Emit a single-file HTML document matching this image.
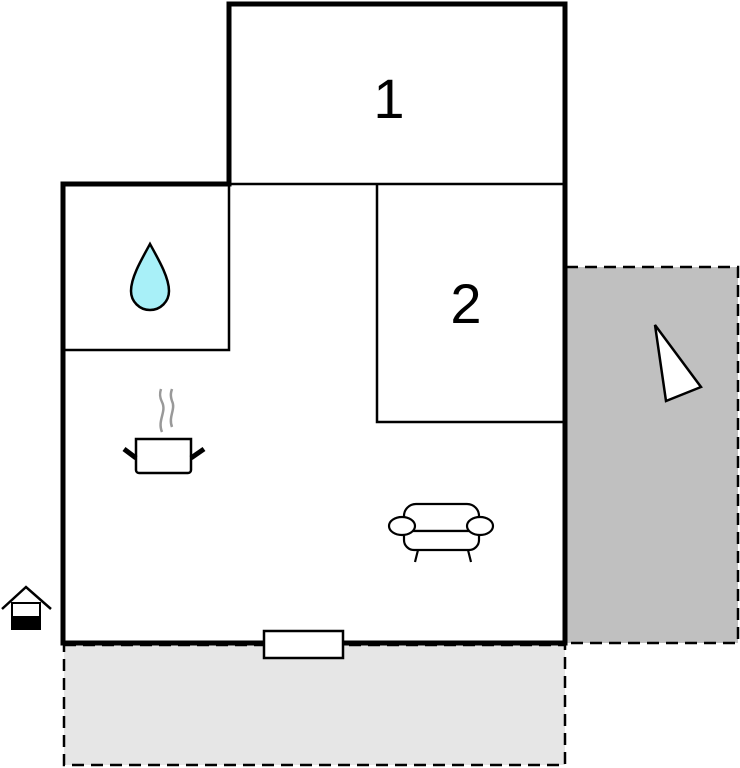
<!DOCTYPE html>
<html><head><style>body{margin:0;background:#fff}svg{display:block}</style></head><body>
<svg width="740" height="768" viewBox="0 0 740 768" xmlns="http://www.w3.org/2000/svg">
<rect x="64" y="645" width="501" height="120" fill="#e6e6e6" stroke="#000" stroke-width="2.5" stroke-dasharray="12,7"/>
<rect x="566" y="267" width="172" height="376" fill="#c0c0c0" stroke="#000" stroke-width="2.5" stroke-dasharray="12,7"/>
<path d="M229,4 H565 V643 H63 V184 H229 Z" fill="#fff" stroke="#000" stroke-width="5"/>
<line x1="229" y1="184" x2="565" y2="184" stroke="#000" stroke-width="2.5"/>
<path d="M229,184 V350 H63" fill="none" stroke="#000" stroke-width="2.5"/>
<path d="M377,184 V422 H565" fill="none" stroke="#000" stroke-width="2.5"/>
<rect x="264" y="631" width="79" height="27" fill="#fff" stroke="#000" stroke-width="2.5"/>
<text x="389" y="118" font-family="Liberation Sans, sans-serif" font-size="56" text-anchor="middle">1</text>
<text x="466" y="323" font-family="Liberation Sans, sans-serif" font-size="56" text-anchor="middle">2</text>
<path d="M150,244 C140,262 131,278 131,291 A19,19 0 0 0 169,291 C169,278 160,262 150,244 Z" fill="#a8f0f8" stroke="#000" stroke-width="2.5"/>
<polygon points="655,325 701,387 666,401" fill="#fff" stroke="#000" stroke-width="2.5"/>
<path d="M162,432 c-5,-12 5,-20 0,-30 c-3,-6 -2,-10 -1,-13 M172,427 c-4,-10 4,-18 0,-26 c-2,-6 -1,-9 0,-12" fill="none" stroke="#999" stroke-width="2.5"/>
<path d="M136,439 H191 V470 a3,3 0 0 1 -3,3 H139 a3,3 0 0 1 -3,-3 Z" fill="#fff" stroke="#000" stroke-width="2.5"/>
<line x1="124" y1="449" x2="136" y2="458" stroke="#000" stroke-width="5"/>
<line x1="204" y1="449" x2="191" y2="458" stroke="#000" stroke-width="5"/>
<g fill="#fff" stroke="#000" stroke-width="2.2">
<path d="M404,531 V516 a12,12 0 0 1 12,-12 H467 a12,12 0 0 1 12,12 V531 Z"/>
<path d="M404,531 H479 V540 a10,10 0 0 1 -10,10 H414 a10,10 0 0 1 -10,-10 Z"/>
<ellipse cx="402" cy="526" rx="13" ry="9"/>
<ellipse cx="480" cy="526" rx="13" ry="9"/>
<line x1="418" y1="550" x2="415" y2="562"/>
<line x1="468" y1="550" x2="471" y2="562"/>
</g>
<path d="M2,609 L26,587 L51,609" fill="none" stroke="#000" stroke-width="2.5"/>
<rect x="12" y="603" width="28" height="26" fill="#fff" stroke="#000" stroke-width="2"/>
<rect x="12" y="616" width="28" height="13" fill="#000"/>
</svg>
</body></html>
